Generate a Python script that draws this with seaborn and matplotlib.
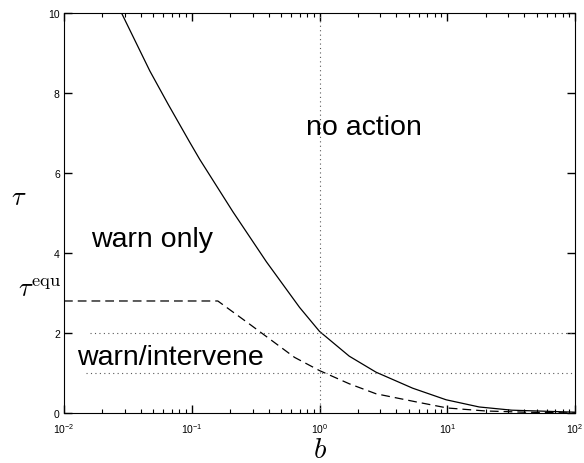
import matplotlib
matplotlib.use("Agg")
import matplotlib.pyplot as plt
import seaborn as sns
import numpy as np
import pandas as pd
from matplotlib.ticker import LogLocator, FixedLocator

# ---- data ----
solid_b = [0.0282, 0.047, 0.0653, 0.0964, 0.1155, 0.21, 0.384, 0.698, 1.0,
           1.71, 2.77, 5.36, 9.8, 17.8, 32.0, 100.0]
solid_tau = [10.0, 8.55, 7.72, 6.77, 6.34, 5.03, 3.78, 2.64, 2.04,
             1.42, 1.02, 0.62, 0.33, 0.15, 0.07, 0.02]

dashed_b = [0.01, 0.16, 0.284, 0.638, 1.0, 1.71, 2.77, 5.86, 10.0,
            20.0, 40.0, 100.0]
dashed_tau = [2.8, 2.8, 2.22, 1.39, 1.06, 0.73, 0.48, 0.27, 0.125,
              0.05, 0.02, 0.0]

tau_equ = 2.8
hlines_tau = [2.0, 1.0]
hlines_start = [0.016, 0.0148]
vline_b = 1.0

yticks = [0, 2, 4, 6, 8, 10]
region_labels = ["no action", "warn only", "warn/intervene"]
region_b = [0.787, 0.01625, 0.01265]
region_tau = [6.98, 4.18, 1.22]

# ---- figure ----
sns.set_style("ticks")
plt.rcParams.update({
    "mathtext.fontset": "cm",
    "text.color": "black", "axes.labelcolor": "black",
})
plt.rcParams["font.family"] = ["Liberation Sans", "DejaVu Sans"]

fig = plt.figure(figsize=(5.84, 4.64), dpi=100)
ax = fig.add_axes([0.1096, 0.1078, 0.9846 - 0.1096, 0.9698 - 0.1078])

df_s = pd.DataFrame({"b": solid_b, "tau": solid_tau})
df_d = pd.DataFrame({"b": dashed_b, "tau": dashed_tau})
sns.lineplot(data=df_s, x="b", y="tau", ax=ax, color="black", lw=0.9,
             sort=False, estimator=None)
sns.lineplot(data=df_d, x="b", y="tau", ax=ax, color="black", lw=0.9,
             sort=False, estimator=None, linestyle=(0, (7, 4)))

for t, s in zip(hlines_tau, hlines_start):
    ax.plot([s, 100], [t, t], linestyle=(0, (1, 3)), color="0.35", lw=0.8)
ax.axvline(vline_b, linestyle=(0, (1, 3)), color="0.35", lw=0.8)

ax.set_xscale("log")
ax.set_xlim(1e-2, 1e2)
ax.set_ylim(0, 10)
ax.set_yticks(yticks)
ax.xaxis.set_major_locator(LogLocator(base=10, numticks=10))
ax.xaxis.set_minor_locator(LogLocator(base=10, subs=np.arange(2, 10), numticks=50))

for sp in ax.spines.values():
    sp.set_visible(True)
    sp.set_color("black")
    sp.set_linewidth(0.8)

ax.tick_params(which="both", direction="in", top=True, right=True,
               bottom=True, left=True, labelsize=7.5, color="black",
               labelcolor="black")
ax.tick_params(which="major", length=6, width=1.0)
ax.tick_params(which="minor", length=3, width=0.8)
ax.tick_params(axis="x", pad=6)
ax.tick_params(axis="y", pad=3)
for tl in ax.xaxis.get_ticklines(minor=False) + ax.yaxis.get_ticklines(minor=False):
    tl.set_visible(True)
    tl.set_zorder(5)

ax.set_xlabel(r"$b$", fontsize=21)
ax.xaxis.set_label_coords(0.5, -0.055)
ax.xaxis.label.set_va("top")
ax.set_ylabel(r"$\tau$", fontsize=19, rotation=0)
ax.yaxis.set_label_coords(-0.088, 0.54)
ax.yaxis.label.set_va("center")

ax.text(-0.005, tau_equ + 0.12, r"$\tau^{\rm equ}$", transform=ax.get_yaxis_transform(),
        ha="right", va="baseline", fontsize=19)

for lab, bx, ty in zip(region_labels, region_b, region_tau):
    ax.text(bx, ty, lab, ha="left", va="baseline", fontsize=20.5)

fig.savefig("out.png", dpi=100)
